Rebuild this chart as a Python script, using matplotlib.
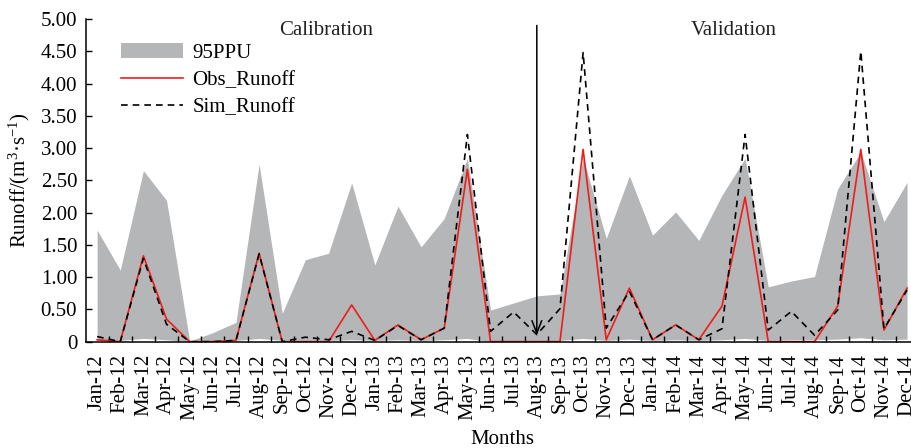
#!/usr/bin/env python3
"""Observed vs simulated monthly runoff with the 95PPU band."""

import matplotlib
matplotlib.use('Agg')
from matplotlib import pyplot as plt
from matplotlib.ticker import FuncFormatter
import numpy as np

months = ['Jan-12', 'Feb-12', 'Mar-12', 'Apr-12', 'May-12', 'Jun-12',
          'Jul-12', 'Aug-12', 'Sep-12', 'Oct-12', 'Nov-12', 'Dec-12',
          'Jan-13', 'Feb-13', 'Mar-13', 'Apr-13', 'May-13', 'Jun-13',
          'Jul-13', 'Aug-13', 'Sep-13', 'Oct-13', 'Nov-13', 'Dec-13',
          'Jan-14', 'Feb-14', 'Mar-14', 'Apr-14', 'May-14', 'Jun-14',
          'Jul-14', 'Aug-14', 'Sep-14', 'Oct-14', 'Nov-14', 'Dec-14']

ppu_upper = [1.73, 1.11, 2.65, 2.19, 0.01, 0.14, 0.30, 2.75, 0.44, 1.27,
             1.37, 2.46, 1.19, 2.10, 1.47, 1.91, 2.84, 0.49, 0.60, 0.71,
             0.74, 2.85, 1.60, 2.57, 1.65, 2.01, 1.57, 2.27, 2.84, 0.85,
             0.94, 1.01, 2.37, 2.94, 1.86, 2.47]
ppu_lower = [0.02, 0.02, 0.05, 0.03, 0.0, 0.0, 0.02, 0.05, 0.02, 0.02,
             0.02, 0.03, 0.02, 0.03, 0.02, 0.03, 0.05, 0.0, 0.0, 0.0,
             0.02, 0.05, 0.02, 0.04, 0.02, 0.03, 0.02, 0.03, 0.05, 0.02,
             0.03, 0.03, 0.04, 0.06, 0.03, 0.04]
obs_runoff = [0.03, 0.0, 1.33, 0.35, 0.0, 0.0, 0.02, 1.37, 0.0, 0.0,
              0.0, 0.57, 0.02, 0.26, 0.03, 0.21, 2.67, 0.0, 0.0, 0.0,
              0.0, 2.98, 0.03, 0.83, 0.03, 0.26, 0.03, 0.55, 2.24, 0.0,
              0.0, 0.0, 0.55, 2.98, 0.18, 0.83]
sim_runoff = [0.08, 0.0, 1.29, 0.27, 0.0, 0.0, 0.02, 1.36, 0.0, 0.07,
              0.03, 0.16, 0.02, 0.25, 0.03, 0.21, 3.21, 0.16, 0.46, 0.11,
              0.51, 4.48, 0.21, 0.78, 0.03, 0.26, 0.03, 0.20, 3.21, 0.18,
              0.47, 0.10, 0.49, 4.50, 0.20, 0.80]


def main():
    plt.rcParams['font.family'] = ['Liberation Serif', 'DejaVu Serif']
    plt.rcParams['mathtext.fontset'] = 'custom'
    plt.rcParams['mathtext.rm'] = 'Liberation Serif'
    plt.rcParams['mathtext.it'] = 'Liberation Serif:italic'

    x = np.arange(len(months))
    fig = plt.figure(figsize=(9.12, 4.48), dpi=100)
    ax = fig.add_axes([0.0938, 0.2373, 0.9135, 0.7203])

    ax.fill_between(x, ppu_lower, ppu_upper, color='#b5b6b8', lw=0,
                    label='95PPU')
    ax.plot(x, obs_runoff, color='#f01c1c', lw=1.2, label='Obs_Runoff')
    ax.plot(x, sim_runoff, color='black', lw=1.2, dashes=(4, 3),
            label='Sim_Runoff')

    # arrow marking the split between calibration and validation
    ax.annotate('', xy=(19, 0.1), xytext=(19, 4.9),
                arrowprops=dict(arrowstyle='->,head_length=0.9,head_width=0.35',
                                color='black', lw=1.1, shrinkA=0, shrinkB=0))
    ax.text(9.9, 4.82, 'Calibration', fontsize=15, ha='center', va='center',
            color='#222222')
    ax.text(27.5, 4.82, 'Validation', fontsize=15, ha='center', va='center',
            color='#222222')

    ax.set_xlim(-0.5, 35.5)
    ax.set_ylim(0, 5)
    ax.set_yticks(np.arange(0, 5.01, 0.5))
    ax.yaxis.set_major_formatter(
        FuncFormatter(lambda v, p: '0' if v == 0 else '%.2f' % v))
    ax.set_xticks(x)
    ax.set_xticklabels(months, rotation=90)
    ax.set_xticks(x[:-1] + 0.5, minor=True)
    ax.tick_params(axis='x', which='major', length=0, pad=9, labelsize=15)
    ax.tick_params(axis='x', which='minor', direction='in', length=4,
                   width=1)
    ax.tick_params(axis='y', direction='in', length=4.5, width=1, pad=6,
                   labelsize=15)
    for side in ['top', 'right']:
        ax.spines[side].set_visible(False)
    for side in ['left', 'bottom']:
        ax.spines[side].set_linewidth(1.1)

    ax.set_xlabel('Months', fontsize=15, labelpad=7)
    ax.set_ylabel(r'Runoff/(m$^{3}$·s$^{-1}$)', fontsize=15, labelpad=6)

    ax.legend(loc='upper left', bbox_to_anchor=(0.032, 0.95), frameon=False,
              fontsize=15, handlelength=3.0, handletextpad=0.45,
              labelspacing=0.35, borderaxespad=0)

    fig.savefig('out.png', dpi=100)


if __name__ == '__main__':
    main()
